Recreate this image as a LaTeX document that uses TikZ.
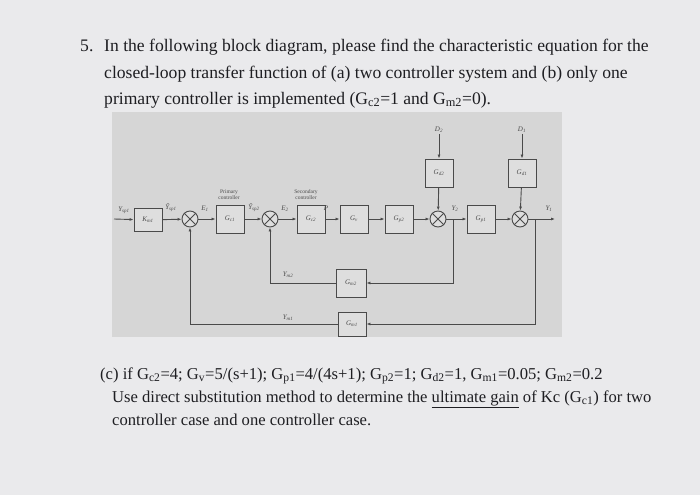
\documentclass[tikz,border=0pt]{standalone}
\usepackage{fontspec}
\setmainfont{Liberation Serif}
\usetikzlibrary{arrows.meta}
\definecolor{page}{HTML}{EAEAEC}
\definecolor{panel}{HTML}{D6D6D6}
\definecolor{ink}{HTML}{1E1E22}
\definecolor{dink}{HTML}{4A4A4A}
\begin{document}
\begin{tikzpicture}[x=1pt,y=-1pt,
  blk/.style={draw=dink,fill=panel!80!white,line width=0.9pt,minimum width=28pt,minimum height=28pt,inner sep=0pt,font=\fontsize{7}{7}\selectfont\itshape,text=dink},
  sumj/.style={draw=dink,circle,line width=0.9pt,minimum size=16pt,inner sep=0pt,fill=panel!80!white},
  sig/.style={draw=dink,line width=0.9pt,-{Latex[length=4pt,width=3pt]}},
  ln/.style={draw=dink,line width=0.9pt},
  lbl/.style={font=\fontsize{7}{7}\selectfont\itshape,text=dink,inner sep=1pt},
  ctlcap/.style={font=\fontsize{5.5}{6}\selectfont,text=dink,align=center,inner sep=0pt},
  txt/.style={font=\fontsize{17.6}{27}\selectfont,text=ink,anchor=base west,inner sep=0pt},
  txc/.style={font=\fontsize{16.6}{22}\selectfont,text=ink,anchor=base west,inner sep=0pt}]
\fill[page] (0,0) rectangle (700,495);
\useasboundingbox (0,0) rectangle (700,495);
\fill[panel] (112,112) rectangle (562,337);
% title text
\node[txt] (n5) at (80,52) {5.};
\node[txt] (t1) at (104,52) {In the following block diagram, please find the characteristic equation for the};
\node[txt] (t2) at (104,78) {closed-loop transfer function of (a) two controller system and (b) only one};
\node[txt] (t3) at (104,104) {primary controller is implemented (G\textsubscript{c2}=1 and G\textsubscript{m2}=0).};
% blocks
\node[blk,minimum width=28pt,minimum height=23pt] (km1) at (148,220) {K\textsubscript{m1}};
\node[sumj] (s1) at (190,219) {};
\node[blk] (gc1) at (230,219) {G\textsubscript{c1}};
\node[sumj] (s2) at (270,219) {};
\node[blk] (gc2) at (311,219) {G\textsubscript{c2}};
\node[blk] (gv) at (354,219) {G\textsubscript{v}};
\node[blk] (gp2) at (399,219) {G\textsubscript{p2}};
\node[sumj] (s3) at (438,219) {};
\node[blk] (gp1) at (481,219) {G\textsubscript{p1}};
\node[sumj] (s4) at (520,219) {};
\node[blk] (gd2) at (439,173) {G\textsubscript{d2}};
\node[blk] (gd1) at (522,173) {G\textsubscript{d1}};
\node[blk,minimum width=30pt] (gm2) at (351,283) {G\textsubscript{m2}};
\node[blk,minimum height=24pt] (gm1) at (352,324) {G\textsubscript{m1}};
\foreach \s in {s1,s2,s3,s4}{
  \draw[ln] (\s.north west)--(\s.south east) (\s.north east)--(\s.south west);}
\node[lbl] (d2) at (439,130) {D\textsubscript{2}};
\node[lbl] (d1) at (522,130) {D\textsubscript{1}};
\coordinate (in) at (114,219);
\coordinate (out) at (555,219);
\coordinate (b2) at (453,219);
\coordinate (b1) at (535,219);
% signals
\draw[sig] (in) -- (km1);
\draw[sig] (km1) -- (s1);
\draw[sig] (s1) -- (gc1);
\draw[sig] (gc1) -- (s2);
\draw[sig] (s2) -- (gc2);
\draw[sig] (gc2) -- (gv);
\draw[sig] (gv) -- (gp2);
\draw[sig] (gp2) -- (s3);
\draw[sig] (s3) -- (gp1);
\draw[sig] (gp1) -- (s4);
\draw[sig] (s4) -- (out);
\draw[sig] (d2) -- (gd2);
\draw[sig] (d1) -- (gd1);
\draw[sig] (gd2) -- (s3);
\draw[sig] (gd1) -- (s4);
\draw[sig] (b2) |- (gm2);
\draw[sig] (gm2) -| (s2);
\draw[sig] (b1) |- (gm1);
\draw[sig] (gm1) -| (s1);
% labels
\node[lbl] (ly0) at (124,210) {Y\textsubscript{sp1}};
\node[lbl] (ly1) at (171,208) {\~{Y}\textsubscript{sp1}};
\node[lbl] (le1) at (205,209) {E\textsubscript{1}};
\node[lbl] (ly2) at (254,208) {\~{Y}\textsubscript{sp2}};
\node[lbl] (le2) at (285,209) {E\textsubscript{2}};
\node[lbl] (lp) at (326,208) {P};
\node[lbl] (l2) at (455,209) {Y\textsubscript{2}};
\node[lbl] (l1) at (549,209) {Y\textsubscript{1}};
\node[lbl] (lm2) at (288,275) {Y\textsubscript{m2}};
\node[lbl] (lm1) at (288,318) {Y\textsubscript{m1}};
\node[ctlcap] (pc) at (229,195) {Primary\\controller};
\node[ctlcap] (sc) at (306,195) {Secondary\\controller};
% part c
\node[txc] (c1) at (100,379) {(c) if G\textsubscript{c2}=4; G\textsubscript{v}=5/(s+1); G\textsubscript{p1}=4/(4s+1); G\textsubscript{p2}=1; G\textsubscript{d2}=1, G\textsubscript{m1}=0.05; G\textsubscript{m2}=0.2};
\node[txc] (c2) at (112,402) {Use direct substitution method to determine the \underline{ultimate gain} of Kc (G\textsubscript{c1}) for two};
\node[txc] (c3) at (112,425) {controller case and one controller case.};
\end{tikzpicture}
\end{document}
